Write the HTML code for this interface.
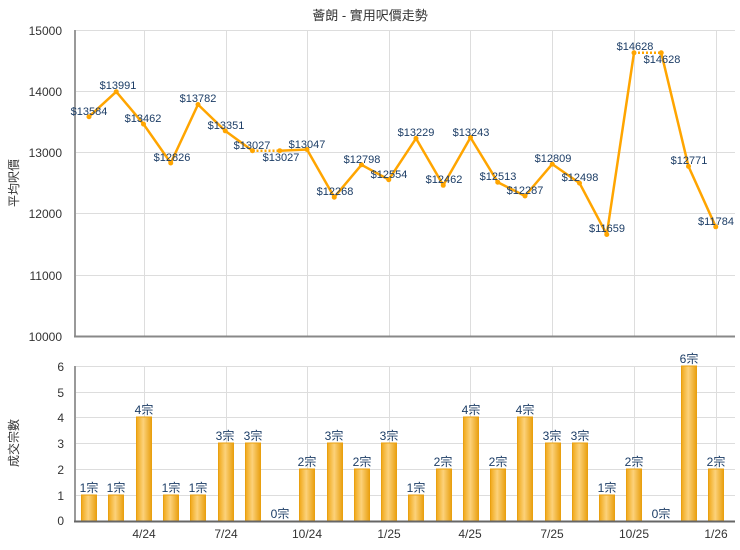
<!DOCTYPE html>
<html><head><meta charset="utf-8"><style>
body{margin:0;background:#fff;}
svg{display:block;font-family:"Liberation Sans","Noto Sans CJK TC",sans-serif;}
.t{font-size:12px;fill:#333;}
.l{font-size:11px;fill:#1c3d66;text-anchor:middle;}
</style></head><body>
<svg width="740" height="550" viewBox="0 0 740 550" xmlns="http://www.w3.org/2000/svg">
<defs>
<linearGradient id="bg" x1="0" x2="1" y1="0" y2="0">
<stop offset="0" stop-color="#f0a818"/><stop offset="0.45" stop-color="#fcd27a"/><stop offset="1" stop-color="#e9a010"/>
</linearGradient>
</defs>
<text x="370" y="20" text-anchor="middle" style="font-size:13px;fill:#333">薈朗 - 實用呎價走勢</text>
<!-- top grid -->
<g stroke="#ddd" stroke-width="1">
<line x1="75" y1="30.5" x2="735" y2="30.5"/><line x1="75" y1="91.5" x2="735" y2="91.5"/><line x1="75" y1="152.5" x2="735" y2="152.5"/><line x1="75" y1="213.5" x2="735" y2="213.5"/><line x1="75" y1="275.5" x2="735" y2="275.5"/>
<line x1="144.5" y1="30" x2="144.5" y2="336"/><line x1="226.5" y1="30" x2="226.5" y2="336"/><line x1="307.5" y1="30" x2="307.5" y2="336"/><line x1="389.5" y1="30" x2="389.5" y2="336"/><line x1="470.5" y1="30" x2="470.5" y2="336"/><line x1="552.5" y1="30" x2="552.5" y2="336"/><line x1="634.5" y1="30" x2="634.5" y2="336"/><line x1="716.5" y1="30" x2="716.5" y2="336"/>
</g>
<line x1="75" y1="30" x2="75" y2="337" stroke="#999" stroke-width="2"/>
<line x1="74" y1="336.5" x2="735" y2="336.5" stroke="#888" stroke-width="2"/>
<g class="t" text-anchor="end">
<text x="62" y="35">15000</text><text x="62" y="96">14000</text><text x="62" y="157">13000</text><text x="62" y="218">12000</text><text x="62" y="280">11000</text><text x="62" y="341">10000</text>
</g>
<text transform="translate(18,183) rotate(-90)" text-anchor="middle" class="t">平均呎價</text>
<!-- line -->
<g stroke="#ffa500" stroke-width="2.5" fill="none" stroke-linejoin="round">
<polyline points="89,116.7 116.25,91.7 143.5,124.1 170.75,163 198,104.5 225.25,130.9 252.5,150.7"/>
<line x1="252.5" y1="150.7" x2="279.75" y2="150.7" stroke-dasharray="2,2"/>
<polyline points="279.75,150.7 307,149.5 334.25,197.2 361.5,164.8 388.75,179.7 416,138.4 443.25,185.3 470.5,137.5 497.75,182.2 525,196 552.25,164.1 579.5,183.1 606.75,234.5 634,52.8"/>
<line x1="634" y1="52.8" x2="661.25" y2="52.8" stroke-dasharray="2,2"/>
<polyline points="661.25,52.8 688.5,166.4 715.75,226.8"/>
</g>
<g fill="#ffa500">
<circle cx="89" cy="116.7" r="2.5"/><circle cx="116.25" cy="91.7" r="2.5"/><circle cx="143.5" cy="124.1" r="2.5"/><circle cx="170.75" cy="163" r="2.5"/><circle cx="198" cy="104.5" r="2.5"/><circle cx="225.25" cy="130.9" r="2.5"/><circle cx="252.5" cy="150.7" r="2.5"/><circle cx="279.75" cy="150.7" r="2.5"/><circle cx="307" cy="149.5" r="2.5"/><circle cx="334.25" cy="197.2" r="2.5"/><circle cx="361.5" cy="164.8" r="2.5"/><circle cx="388.75" cy="179.7" r="2.5"/><circle cx="416" cy="138.4" r="2.5"/><circle cx="443.25" cy="185.3" r="2.5"/><circle cx="470.5" cy="137.5" r="2.5"/><circle cx="497.75" cy="182.2" r="2.5"/><circle cx="525" cy="196" r="2.5"/><circle cx="552.25" cy="164.1" r="2.5"/><circle cx="579.5" cy="183.1" r="2.5"/><circle cx="606.75" cy="234.5" r="2.5"/><circle cx="634" cy="52.8" r="2.5"/><circle cx="661.25" cy="52.8" r="2.5"/><circle cx="688.5" cy="166.4" r="2.5"/><circle cx="715.75" cy="226.8" r="2.5"/>
</g>
<g class="l">
<text x="89" y="115">$13584</text><text x="118" y="89">$13991</text><text x="143" y="122">$13462</text><text x="172" y="161">$12826</text><text x="198" y="102">$13782</text><text x="226" y="129">$13351</text><text x="252" y="149">$13027</text><text x="281" y="161">$13027</text><text x="307" y="148">$13047</text><text x="335" y="195">$12268</text><text x="362" y="163">$12798</text><text x="389" y="178">$12554</text><text x="416" y="136">$13229</text><text x="444" y="183">$12462</text><text x="471" y="136">$13243</text><text x="498" y="180">$12513</text><text x="525" y="194">$12287</text><text x="553" y="162">$12809</text><text x="580" y="181">$12498</text><text x="607" y="232">$11659</text><text x="635" y="50">$14628</text><text x="662" y="63">$14628</text><text x="689" y="164">$12771</text><text x="716" y="225">$11784</text>
</g>
<!-- bottom grid -->
<g stroke="#ddd" stroke-width="1">
<line x1="75" y1="366.5" x2="735" y2="366.5"/><line x1="75" y1="392.5" x2="735" y2="392.5"/><line x1="75" y1="417.5" x2="735" y2="417.5"/><line x1="75" y1="443.5" x2="735" y2="443.5"/><line x1="75" y1="469.5" x2="735" y2="469.5"/><line x1="75" y1="495.5" x2="735" y2="495.5"/>
<line x1="144.5" y1="366" x2="144.5" y2="521"/><line x1="226.5" y1="366" x2="226.5" y2="521"/><line x1="307.5" y1="366" x2="307.5" y2="521"/><line x1="389.5" y1="366" x2="389.5" y2="521"/><line x1="470.5" y1="366" x2="470.5" y2="521"/><line x1="552.5" y1="366" x2="552.5" y2="521"/><line x1="634.5" y1="366" x2="634.5" y2="521"/><line x1="716.5" y1="366" x2="716.5" y2="521"/>
</g>
<line x1="75" y1="366" x2="75" y2="522" stroke="#999" stroke-width="2"/>
<g class="t" text-anchor="end">
<text x="64" y="371">6</text><text x="64" y="397">5</text><text x="64" y="422">4</text><text x="64" y="448">3</text><text x="64" y="474">2</text><text x="64" y="500">1</text><text x="64" y="525">0</text>
</g>
<text transform="translate(18,443) rotate(-90)" text-anchor="middle" class="t">成交宗數</text>
<g fill="url(#bg)" stroke="#e9a010" stroke-width="1">
<rect x="81.5" y="495" width="15" height="26"/><rect x="108.5" y="495" width="15" height="26"/><rect x="136.5" y="417" width="15" height="104"/><rect x="163.5" y="495" width="15" height="26"/><rect x="190.5" y="495" width="15" height="26"/><rect x="218.5" y="443" width="15" height="78"/><rect x="245.5" y="443" width="15" height="78"/>
<rect x="299.5" y="469" width="15" height="52"/><rect x="327.5" y="443" width="15" height="78"/><rect x="354.5" y="469" width="15" height="52"/><rect x="381.5" y="443" width="15" height="78"/><rect x="408.5" y="495" width="15" height="26"/><rect x="436.5" y="469" width="15" height="52"/><rect x="463.5" y="417" width="15" height="104"/><rect x="490.5" y="469" width="15" height="52"/><rect x="517.5" y="417" width="15" height="104"/><rect x="545.5" y="443" width="15" height="78"/><rect x="572.5" y="443" width="15" height="78"/><rect x="599.5" y="495" width="15" height="26"/><rect x="626.5" y="469" width="15" height="52"/>
<rect x="681.5" y="366" width="15" height="155"/><rect x="708.5" y="469" width="15" height="52"/>
</g>
<line x1="74" y1="521.5" x2="735" y2="521.5" stroke="#666" stroke-width="2"/>
<g class="l" style="font-size:12px">
<text x="89" y="492">1宗</text><text x="116" y="492">1宗</text><text x="144" y="414">4宗</text><text x="171" y="492">1宗</text><text x="198" y="492">1宗</text><text x="225" y="440">3宗</text><text x="253" y="440">3宗</text><text x="280" y="518">0宗</text><text x="307" y="466">2宗</text><text x="334" y="440">3宗</text><text x="362" y="466">2宗</text><text x="389" y="440">3宗</text><text x="416" y="492">1宗</text><text x="443" y="466">2宗</text><text x="471" y="414">4宗</text><text x="498" y="466">2宗</text><text x="525" y="414">4宗</text><text x="552" y="440">3宗</text><text x="580" y="440">3宗</text><text x="607" y="492">1宗</text><text x="634" y="466">2宗</text><text x="661" y="518">0宗</text><text x="689" y="363">6宗</text><text x="716" y="466">2宗</text>
</g>
<g class="t" text-anchor="middle">
<text x="144" y="538">4/24</text><text x="226" y="538">7/24</text><text x="307" y="538">10/24</text><text x="389" y="538">1/25</text><text x="470" y="538">4/25</text><text x="552" y="538">7/25</text><text x="634" y="538">10/25</text><text x="716" y="538">1/26</text>
</g>
</svg>
</body></html>
